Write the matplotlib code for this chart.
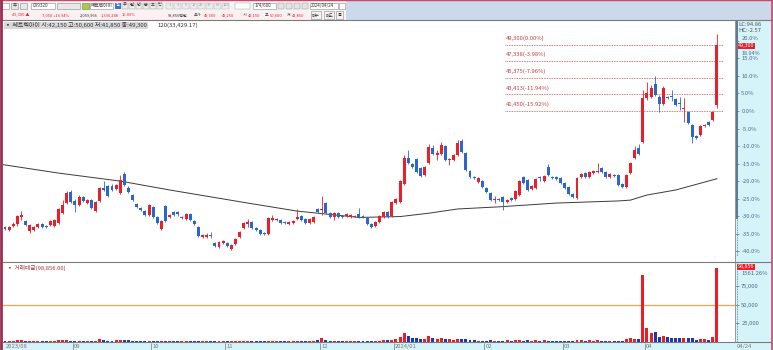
import matplotlib
matplotlib.use('Agg')
import matplotlib.pyplot as plt
from matplotlib.patches import Rectangle
from matplotlib.lines import Line2D
import numpy as np

plt.rcParams['font.family'] = ['Noto Sans CJK KR', 'DejaVu Sans']

# --- daily candles (won), 2023/08 .. 2024/04/24 ---
opens = [27700, 27350, 27850, 28050, 28900, 28450, 27250, 27350, 27700, 28050,
         27850, 27950, 27850, 28200, 29350, 30550, 31850, 30800, 30300, 31250,
         30550, 30900, 29600, 30800, 32350, 32550, 32550, 32200, 31750, 34000,
         32350, 31500, 30450, 29950, 29600, 29150, 30100, 28900, 27500, 30200,
         28900, 29500, 29500, 28800, 28650, 29250, 28450, 27700, 26550, 26550,
         26750, 25800, 25350, 25800, 25800, 25100, 25700, 26550, 27600, 28050,
         28300, 27600, 27350, 27000, 26900, 28550, 28550, 28550, 28300, 28050,
         28200, 28650, 29000, 28650, 28200, 28300, 29850, 29750, 30550, 29350,
         28900, 29350, 29000, 29000, 28900, 28950, 29250, 29000, 28800, 28050,
         27850, 28300, 28900, 29500, 29000, 30550, 30700, 32800, 35900, 35150,
         35750, 34700, 33850, 35300, 37050, 36250, 36350, 37300, 35650, 35650,
         36250, 37900, 36500, 34350, 33650, 33050, 33150, 32350, 31750, 30900,
         31050, 31250, 30700, 31150, 31050, 31500, 33650, 33300, 32200, 32350,
         33650, 33150, 34800, 33650, 33650, 33500, 32950, 32450, 31600, 31150,
         33650, 34100, 33650, 34100, 34250, 34700, 34250, 33650, 33850, 33850,
         32800, 32450, 34100, 35900, 37050, 37800, 42950, 43100, 44650, 43100,
         42300, 43100, 43250, 42850, 42400, 41700, 41350, 39800, 38500, 38600,
         39650, 40150, 40400, 42150]
highs = [27850, 27850, 28300, 29150, 29600, 28550, 28050, 27850, 28200, 28200,
         27950, 28550, 28650, 29950, 30900, 32000, 32100, 31050, 31500, 31400,
         31050, 31050, 30800, 32450, 33150, 32700, 32800, 32800, 33850, 34250,
         32550, 31600, 30550, 30100, 29750, 30450, 30200, 29000, 28550, 30300,
         29250, 29600, 29600, 29000, 29350, 29350, 28550, 27850, 26900, 27000,
         27100, 25950, 26050, 26200, 25950, 25700, 26400, 27250, 28300, 28650,
         28450, 27700, 27500, 27100, 28900, 29150, 28800, 28650, 28450, 28450,
         28550, 29850, 29150, 28800, 28800, 29000, 29950, 31400, 30700, 29500,
         29500, 29500, 29150, 29350, 29250, 29150, 29950, 29150, 28900, 28200,
         28450, 29150, 29600, 29600, 30800, 31150, 33300, 36250, 36850, 35300,
         35900, 34800, 34950, 37550, 37400, 36850, 37800, 37400, 35900, 36350,
         38000, 38150, 36600, 34450, 33750, 33650, 33300, 32450, 31850, 31400,
         31150, 31400, 31050, 31250, 32100, 33300, 33750, 33400, 32700, 33500,
         33750, 33850, 35150, 33750, 33750, 33650, 33050, 32550, 31750, 33650,
         34100, 34250, 34350, 34450, 35300, 34800, 34350, 34100, 34000, 34000,
         32950, 34000, 35400, 37300, 37550, 43950, 44850, 44550, 45600, 43350,
         44400, 43250, 43950, 43000, 43100, 42950, 41450, 39900, 38600, 39800,
         39900, 40250, 41450, 50600]
lows = [27350, 27250, 27700, 27850, 28550, 27850, 27000, 27250, 27600, 27600,
        27600, 27850, 27700, 28050, 29250, 30450, 30550, 29500, 30200, 30700,
        30450, 29850, 29500, 30700, 32000, 31250, 32000, 32100, 31600, 32550,
        31750, 30800, 29950, 29600, 29000, 29000, 28800, 28050, 27350, 28300,
        28800, 29000, 29000, 28650, 28550, 28450, 27950, 26550, 26400, 26400,
        26400, 25350, 25250, 25700, 25350, 25000, 25600, 26400, 27500, 27700,
        27500, 27250, 26750, 26750, 26750, 28450, 28450, 28050, 28050, 27950,
        28050, 28550, 28450, 28050, 28050, 28200, 29350, 29150, 29250, 28800,
        28550, 28800, 28800, 28900, 28800, 28900, 28800, 28800, 27950, 27600,
        27700, 28200, 28800, 28800, 28900, 30450, 30550, 32700, 35150, 34700,
        34100, 33650, 33750, 35150, 36250, 35650, 36250, 35500, 35050, 35500,
        36100, 36450, 34350, 33500, 33400, 32900, 32350, 31750, 30800, 30550,
        30800, 29750, 30550, 30800, 30900, 31400, 32800, 32000, 32100, 32200,
        33150, 33050, 33750, 33400, 33300, 32800, 32200, 31500, 31150, 31050,
        33500, 33500, 33500, 33950, 34100, 34100, 33500, 33500, 33650, 32550,
        32350, 32350, 34000, 35750, 36250, 37650, 42750, 42950, 43200, 41350,
        42150, 42850, 42650, 42050, 41550, 40150, 39900, 37650, 38100, 38500,
        39550, 39650, 40250, 41850]
closes = [27500, 27700, 28050, 29000, 29150, 27950, 27950, 27700, 28050, 27700,
          27700, 28450, 28550, 29850, 30300, 31750, 30700, 30300, 31250, 30800,
          30900, 29950, 30700, 32350, 32100, 31400, 32100, 32700, 33300, 32700,
          31850, 30900, 30100, 29750, 29150, 30300, 28900, 28200, 28450, 28450,
          29150, 29150, 29200, 28900, 29250, 28550, 28050, 26650, 26750, 26750,
          26650, 25450, 25950, 26050, 25450, 25600, 26300, 27100, 28200, 28300,
          27600, 27350, 26900, 26900, 28800, 28800, 28650, 28200, 28200, 28300,
          28450, 28900, 28550, 28200, 28650, 28900, 29500, 29850, 29350, 28900,
          29350, 28900, 28900, 29250, 29150, 29050, 28900, 28900, 28050, 27700,
          28300, 29000, 29500, 28900, 30700, 31050, 33150, 35900, 35300, 34800,
          34250, 33750, 34800, 37200, 36350, 36500, 37400, 35650, 35750, 36250,
          37650, 36600, 34450, 33650, 33500, 33500, 32450, 31850, 30900, 31050,
          30900, 30700, 30900, 30900, 31950, 33150, 32950, 32100, 32550, 33400,
          33500, 33750, 33850, 33500, 33400, 32950, 32350, 31600, 31250, 33500,
          34000, 33650, 34250, 34350, 34350, 34250, 33650, 34000, 33750, 32700,
          32450, 33850, 35300, 36850, 36350, 42950, 43600, 44150, 43350, 42300,
          44150, 43000, 43100, 42150, 42300, 41800, 40050, 38350, 38250, 39650,
          39800, 39800, 41350, 49300]
# trade value (million won)
volumes = [1500, 1200, 1800, 2500, 2200, 1500, 1800, 1200, 1000, 1100,
           900, 1200, 1300, 2600, 2800, 3200,
           2000, 1800, 1500, 1800, 1200, 1500, 1300, 3600, 3000, 1800,
           1600, 2800, 3200, 3000, 2200, 1800, 1600, 1500, 1400, 1300,
           1500, 1200, 1100, 1300, 1800, 1000, 900, 1000, 1300, 1100,
           1200, 1600, 1100, 900, 800, 1000, 900, 1200,
           1100, 1300, 1000, 1200, 1500, 1400, 1100, 900, 1000, 1200,
           1100, 1300, 1000, 1600, 1100, 900, 1000, 1200, 2000, 1100,
           1200, 1300, 3000,
           5000, 2500, 1500, 1300, 1200, 1000, 1100, 1200, 1000, 1300,
           1100, 1500, 1600, 1800, 2000, 2200, 2500, 3000,
           4000, 7000, 12000, 8000, 6000, 5000, 4000, 4500, 8000, 5000,
           4000, 5000, 4000, 3500, 3000, 4000, 4000, 3500, 3000, 2500,
           2000, 2000,
           1800, 2500, 2000, 1800, 1500, 2200, 1500, 2500, 3000, 2000,
           2500, 1800, 2200, 2000, 2500, 1800, 1500, 2000, 1500,
           1500, 1800, 2000, 3000, 2500, 2000, 2500, 2000, 2500, 1500,
           1200, 1500, 1000, 1800, 1500, 4000, 5700, 4000, 4000, 89600,
           19000, 11600, 13000, 7000, 7500, 6500, 6000, 6000, 5000, 5000,
           6000, 6000, 3000, 3500, 4500, 3000, 7000, 98856]
# 120-day moving average read at a few candles
ma_idx = [-1.2, 13, 28, 40, 59, 71, 86, 96, 103, 110, 120, 134, 149, 152, 156, 163, 173]
ma_val = [35150, 34100, 33150, 32100, 30550, 29600, 28850, 28950, 29350, 29850,
          30100, 30550, 30800, 30900, 31500, 32100, 33429]
month_idx = [17, 36, 54, 77, 95, 117, 136, 156]
month_labels = ['09', '10', '11', '12', '2024/01', '02', '03', '04']
fib_prices = [49300, 47338, 45375, 43413, 41450]
fib_labels = ['49,300(0.00%)', '47,338(-3.98%)', '45,375(-7.96%)',
              '43,413(-11.94%)', '41,450(-15.92%)']
base_price = 41450
pct_ticks = [20, 15, 10, 5, 0, -5, -10, -15, -20, -25, -30, -35, -40]
vol_ticks = [25000, 50000, 75000]

RED, BLUE = '#e8202a', '#2a66cf'
VRED, VBLUE = '#ee1c24', '#1f35b8'
CYAN = '#d4f4f9'
AXC = '#56688a'
FS = 4.2

W, H = 773, 350
fig = plt.figure(figsize=(W / 100, H / 100), dpi=100)


def fx(x):
    return x / W


def fy(y):
    return 1 - y / H


def rect(x0, y0, x1, y1, fc, ec='none', lw=0.6, z=-1):
    fig.patches.append(Rectangle((fx(x0), fy(y1)), fx(x1) - fx(x0), fy(y0) - fy(y1),
                                 transform=fig.transFigure, facecolor=fc,
                                 edgecolor=ec, linewidth=lw, zorder=z))


def hline(x0, x1, y, c, lw=0.8, ls='-', z=2):
    fig.lines.append(Line2D([fx(x0), fx(x1)], [fy(y), fy(y)], transform=fig.transFigure,
                            color=c, lw=lw, ls=ls, zorder=z))


def vline(x, y0, y1, c, lw=0.8, ls='-', z=2):
    fig.lines.append(Line2D([fx(x), fx(x)], [fy(y0), fy(y1)], transform=fig.transFigure,
                            color=c, lw=lw, ls=ls, zorder=z))


def txt(x, y, s, color='#333333', size=FS, ha='left', **kw):
    fig.text(fx(x), fy(y), s, color=color, fontsize=size, ha=ha, va='center', **kw)


# ---- toolbar ----
rect(0, 0, W, 20, '#ccd9ea')
rect(0, 0.5, 346, 10, '#f3f3f3')
rect(0, 10, 346, 19.5, '#fbf1f3')
hline(0, W, 0.4, '#c84a6a', lw=1.0)
hline(0, W, 20.2, '#7a7a7a', lw=0.8)
rect(2, 2.5, 9, 8.5, '#ffffff', ec='#8a8a8a', lw=0.4, z=1)
rect(11, 2.5, 18, 8.5, '#e8e8e8', ec='#8a8a8a', lw=0.4, z=1)
rect(20, 2.5, 27, 8.5, '#e8e8e8', ec='#8a8a8a', lw=0.4, z=1)
txt(14.5, 5.5, '주', size=3.2, ha='center')
rect(31, 2.5, 55, 8.5, '#ffffff', ec='#8a8a8a', lw=0.4, z=1)
txt(33, 5.5, '099320', size=3.3)
rect(57, 2.5, 80, 8.5, '#e8e8e8', ec='#8a8a8a', lw=0.4, z=1)
rect(82, 2.5, 89, 8.5, '#a8c850', ec='#6a8a30', lw=0.4, z=1)
rect(90, 2.5, 113, 8.5, '#ffffff', ec='#8a8a8a', lw=0.4, z=1)
txt(91, 5.5, '쎄트렉아이', size=3.4)
rect(115, 2.5, 121, 8.5, '#3a78d0', z=1)
txt(118, 5.5, '일', size=3.0, color='white', ha='center')
for k, s in enumerate(['주', '월', '년', '분', '초', '틱']):
    rect(122 + k * 7, 2.5, 128 + k * 7, 8.5, '#ececec', ec='#9a9a9a', lw=0.3, z=1)
    txt(125 + k * 7, 5.5, s, size=3.0, ha='center')
for k, s in enumerate(['1', '3', '5', '10', '20', '30', '60', '120']):
    rect(166 + k * 8, 2.5, 173 + k * 8, 8.5, '#ececec', ec='#b0b0b0', lw=0.3, z=1)
    txt(169.5 + k * 8, 5.5, s, size=2.8, ha='center', color='#9a9a9a')
rect(235, 2.5, 250, 8.5, '#ffffff', ec='#9a9a9a', lw=0.3, z=1)
rect(253, 2.5, 276, 8.5, '#ffffff', ec='#8a8a8a', lw=0.4, z=1)
txt(255, 5.5, '174/600', size=3.2)
for k in range(4):
    rect(278 + k * 8, 2.5, 284 + k * 8, 8.5, '#e4e4e4', ec='#8a8a8a', lw=0.3, z=1)
rect(310, 2.5, 338, 8.5, '#ffffff', ec='#8a8a8a', lw=0.4, z=1)
txt(311, 5.5, '2024/04/24', size=3.2)
rect(339, 2.5, 345, 8.5, '#ffffff', ec='#8a8a8a', lw=0.4, z=1)

row2 = [(12, '49,300 ▲', RED), (42, '7,050 +16.94%', RED), (80, '2,059,966', '#333333'),
        (101, '1,336,248', RED), (122, '16.00%', RED), (168, '98,856백만', '#333333'),
        (194, '호가', '#333333'), (204, '49,300', RED), (222, '49,250', RED),
        (243, '시', '#333333'), (248, '42,150', RED), (265, '고', '#333333'),
        (270, '50,600', RED), (287, '저', '#333333'), (292, '41,850', RED)]
for x0, s, c in row2:
    txt(x0, 15, s, color=c, size=2.9)
for x0, x1, s in [(311, 321, '매수'), (324, 334, '매도'), (336, 343, '틀')]:
    rect(x0, 11.5, x1, 18.5, '#f4f4f4', ec='#8a8a8a', lw=0.4, z=1)
    txt((x0 + x1) / 2, 15, s, size=3.0, ha='center')

# ---- frame / panels ----
rect(735, 21, 771, 342, CYAN)
rect(0, 342, W, H, CYAN)
vline(1, 0, H, '#9a2e50', lw=2.0, z=3)
vline(772, 0, H, '#c04868', lw=1.2, z=3)
hline(3, 771, 261.5, '#7a7a7a', lw=0.8)
hline(3, 771, 342.3, '#7a7a7a', lw=0.8)
vline(735.4, 21, 342, '#8a8a8a', lw=0.6)

# ---- price panel ----
n = min(len(opens), len(highs), len(lows), len(closes))
x = np.arange(n)
o = np.array(opens[:n]); h = np.array(highs[:n])
lo = np.array(lows[:n]); c = np.array(closes[:n])
up = c >= o

ax = fig.add_axes([fx(3), fy(261), fx(735) - fx(3), fy(21) - fy(261)])
ax.set_xlim(-0.49, 177.4)
ax.set_ylim(23690, 52106)
for s in ax.spines.values():
    s.set_visible(False)

ax.plot(ma_idx, ma_val, color='#3a3a3a', lw=0.7, zorder=2)
cols = np.where(up, RED, BLUE)
ax.vlines(x, lo, h, colors=cols, lw=0.6, zorder=3)
ax.bar(x, np.maximum(np.abs(c - o), 80), bottom=np.minimum(o, c), width=0.72,
       color=cols, linewidth=0, zorder=4)

for p, s in zip(fib_prices, fib_labels):
    ax.hlines(p, 121.5, 174.5, colors='#c8504c', lw=0.6, linestyles=(0, (1, 1)), zorder=1)
    ax.text(121.8, p + 450, s, color='#c0403c', fontsize=FS, va='bottom', ha='left')

ax.set_xticks([])
ax.yaxis.tick_right()
ax.set_yticks([base_price * (1 + p / 100) for p in pct_ticks])
ax.set_yticklabels([f'{p:.1f}%' for p in pct_ticks])
ax.tick_params(axis='y', direction='out', length=3, width=0.5, color=AXC,
               labelsize=FS, labelcolor=AXC, pad=1.5)
ax.get_yticklabels()[0].set_va('bottom')

ax.text(0.003, 1 - 4.5 / 240, '▪ 쎄트렉아이 시:42,150 고:50,600 저:41,850 종:49,300',
        transform=ax.transAxes, fontsize=4.3, color='#333333', va='center', ha='left',
        bbox=dict(boxstyle='square,pad=0.12', fc='#d9d9d9', ec='none'))
ax.text((157 - 3) / 732, 1 - 4.5 / 240, '120(33,429.17)', transform=ax.transAxes,
        fontsize=4.3, color='#333333', va='center', ha='left')

# right price bar
vline(737, 22, 218, '#5d7494', lw=1.4, z=3)
vline(737, 218, 256, '#5d7494', lw=0.6, ls=(0, (1, 1)), z=3)
txt(738, 24.5, 'LC:94.86', color='#555555', size=FS)
txt(738, 30.5, 'HC:-2.57', color='#555555', size=FS)
ax.text(1.004, closes[-1] - 100, '49,300', transform=ax.get_yaxis_transform(), fontsize=3.9,
        color='white', va='center', ha='left', zorder=6,
        bbox=dict(boxstyle='square,pad=0.1', fc='#e8202a', ec='none'))
ax.text(1.009, closes[-1] - 760, f'{(closes[-1] / base_price - 1) * 100:.2f}%',
        transform=ax.get_yaxis_transform(), fontsize=3.9, color=AXC, va='top', ha='left')

# ---- volume panel ----
vax = fig.add_axes([fx(3), fy(342), fx(735) - fx(3), fy(262) - fy(342)])
vax.set_xlim(-0.49, 177.4)
vax.set_ylim(0, 107000)
for s in vax.spines.values():
    s.set_visible(False)
vcols = np.where(up, VRED, VBLUE)
vax.bar(x, volumes[:n], width=0.72, color=vcols, linewidth=0, zorder=3)
vax.axhline(50000, color='#f2a25a', lw=0.9, zorder=2)
vax.set_xticks([])
vax.yaxis.tick_right()
vax.set_yticks(vol_ticks)
vax.set_yticklabels([f'{v:,}' for v in vol_ticks])
vax.tick_params(axis='y', direction='out', length=3, width=0.5, color=AXC,
                labelsize=FS, labelcolor=AXC, pad=1.5)
vax.text(0.005, 1 - 6 / 80, '▪ 거래대금(98,856.00)', transform=vax.transAxes,
         fontsize=FS, color='#a03838', va='center', ha='left')
vax.text(1.004, volumes[-1] + 1500, f'{volumes[-1]:,}', transform=vax.get_yaxis_transform(),
         fontsize=3.9, color='white', va='center', ha='left',
         bbox=dict(boxstyle='square,pad=0.1', fc='#ee1c24', ec='none'))
vax.text(1.009, volumes[-1] - 7500, '1561.26%', transform=vax.get_yaxis_transform(),
         fontsize=FS, color=AXC, va='center', ha='left')
vline(737, 262, 342, '#5d7494', lw=0.6, ls=(0, (1, 1)), z=3)

# ---- date strip ----
dax = fig.add_axes([fx(3), 0, fx(735) - fx(3), fy(342.5)])
dax.set_xlim(-0.49, 177.4)
dax.set_ylim(0, 1)
dax.patch.set_alpha(0)
dax.axis('off')
dax.text(0.2, 0.45, '2023/08', fontsize=FS, color='#7a7a7a', va='center', ha='left')
for i, s in zip(month_idx, month_labels):
    dax.vlines(i - 0.5, 0, 1, colors='#8a8a8a', lw=0.6)
    dax.text(i - 0.2, 0.45, s, fontsize=FS, color='#7a7a7a', va='center', ha='left')
txt(737, 346.5, '04/24', color='#7a7a7a', size=FS)

fig.savefig('out.png', dpi=100)
